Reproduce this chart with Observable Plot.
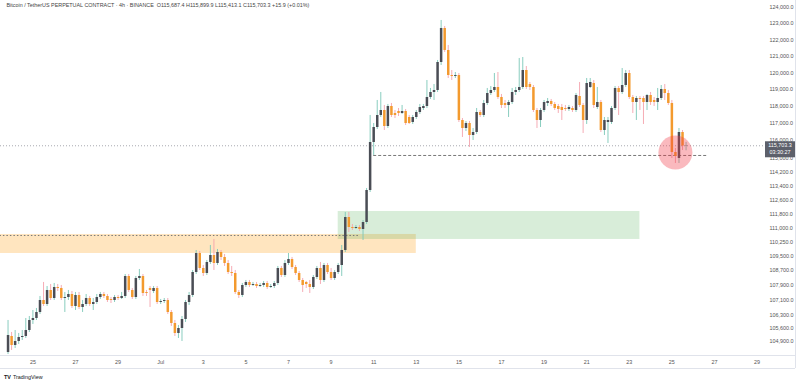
<!DOCTYPE html>
<html><head><meta charset="utf-8">
<script src="https://cdn.jsdelivr.net/npm/d3@7"></script>
<script src="https://cdn.jsdelivr.net/npm/@observablehq/plot@0.6"></script>
<style>body{margin:0;background:#fff;overflow:hidden} svg{display:block}</style>
</head><body><div id="chart"></div>
<script>
// BTCUSDT.P 4h candles, first bar 2025-06-23 20:00 UTC
const firstBar = Date.UTC(2025, 5, 23, 20);
const opens = [
104325,105164,104691,104901,105111,105164,105480,106010,106116,106436,
107077,106863,107615,107184,107776,107722,107184,107238,107399,106756,
107346,106702,106863,107184,106863,106970,107238,107399,107292,107131,
107077,107238,107184,107292,108372,107615,107238,108263,108372,107507,
107722,107561,107722,106970,107024,107077,106436,105851,105322,105586,
106063,106970,107346,108589,109627,108807,108535,109135,109518,109080,
109682,109408,109080,108589,108535,107507,107346,107885,108047,107885,
107939,107830,107885,107993,107776,107830,107993,108807,108426,109080,
109299,108861,108535,108155,108047,107939,107776,108317,108807,108155,
108970,108589,108263,108589,108970,109792,111621,111064,111009,111064,
110953,111342,113141,115894,116767,117472,117766,116826,118002,117590,
117707,117590,117707,117354,117061,117354,117649,117884,118002,118535,
118833,118952,120632,122703,121359,119848,119788,119848,117178,116709,
117002,116301,116476,117649,117472,118180,118773,118952,119130,118535,
118180,118062,118239,118833,118952,119130,120149,119309,119130,117766,
117178,117766,118180,118298,118121,118002,117943,117884,117825,117884,
117766,118595,118062,117178,119130,119369,117943,118239,116592,117061,
117061,117884,119071,118833,119250,119968,118535,118239,118476,118476,
118239,118654,118358,118239,118476,119011,118773,118180,115315,114969,
116476,115687.4];
const highs = [
106010,105375,105480,105322,105480,106116,106222,106542,106649,107292,
108047,107830,107939,107993,107939,107885,107507,107615,107561,107507,
107507,107077,107399,107292,107184,107399,107507,107507,107399,107238,
107346,107346,107507,108480,108480,107722,108372,108752,108480,107615,
107830,107830,107830,107131,107184,107184,106542,106010,105745,106222,
107077,107507,108698,109792,109737,108970,109244,110067,110399,109847,
109792,109573,109244,108916,108698,107615,107993,108155,108155,108047,
108047,107993,108101,108101,107939,108101,108916,108916,109244,109627,
109408,108970,108643,108263,108101,108155,108426,108916,109135,109080,
109080,108807,108698,109080,110067,111902,111902,111231,111175,111175,
111454,113254,117472,117002,118358,118833,118062,118121,118180,117766,
117884,118062,117825,117472,117472,117766,118121,118121,119549,119071,
119309,120752,123196,122826,121663,120149,120028,119968,117295,117119,
117119,116709,117884,117766,118358,119071,119190,119968,120028,118714,
118358,118358,119071,119130,120874,120934,120389,119429,119250,117884,
117884,118358,118476,118417,118239,118121,118121,118062,118062,118002,
118773,119429,118180,119668,119668,119549,119130,118358,117354,117354,
118002,119190,119190,120269,120149,120149,118654,118595,118595,118595,
118714,118833,118535,119071,119250,119309,118952,118358,115546,116709,
116592,115899.9];
const lows = [
104220,104429,104534,104743,104953,105058,105375,105798,106010,106329,
106756,106756,107077,107077,107561,107077,106436,107077,106649,106542,
106596,106436,106756,106756,106542,106863,107131,107184,106970,106916,
106970,107077,107131,107184,107507,107131,107131,108155,107292,107292,
106702,107453,106863,106863,106916,106329,105692,105164,105058,104901,
105904,106809,107238,108480,108698,108372,108426,109025,108698,108970,
109244,108916,108480,108372,107399,107184,107238,107776,107776,107830,
107722,107776,107776,107668,107722,107722,107885,108317,108317,108970,
108752,108426,108047,107507,107722,107453,107668,108209,107939,108047,
108480,108155,108155,108480,108372,109682,110787,110898,110953,110842,
110343,111231,113028,115142,116651,117354,116592,116709,117354,117295,
117413,117531,116885,116944,116944,117237,117531,117766,117884,118417,
118358,118833,120450,121238,119668,119549,119668,117061,116184,116534,
115604,116010,116359,117354,117354,118062,118654,118833,118417,117884,
117884,117354,118121,118654,118833,119011,119011,118952,117649,116709,
116767,117649,118002,118002,117766,117590,117178,117707,117707,117649,
117649,117943,116417,116944,119071,117884,117825,116476,116301,115836,
116944,117766,117472,118714,119130,118417,117590,117178,117766,116944,
117766,118062,118002,117766,118358,118358,118062,114969,114682,114682,
115431,115413.1];
const closes = [
105217,104691,104901,105111,105164,105480,106010,106116,106436,107077,
106863,107615,107184,107776,107722,107184,107238,107399,106756,107346,
106702,106863,107184,106863,106970,107238,107399,107292,107077,107077,
107238,107184,107292,108372,107615,107238,108263,108372,107453,107453,
107615,107722,106970,107024,107077,106436,105851,105322,105586,106063,
106970,107346,108589,109627,108807,108535,109135,109518,109080,109682,
109408,109080,108589,108535,107507,107346,107885,108047,107885,107939,
107830,107885,107993,107776,107830,107993,108807,108426,109080,109299,
108861,108535,108155,107885,107939,107776,108317,108807,108155,108970,
108589,108263,108589,108970,109792,111621,111064,111009,111064,110953,
111342,113141,115894,116767,117472,117766,116826,118002,117472,117472,
117590,117707,117002,117002,117354,117649,117943,118002,118535,118833,
118952,120632,122703,121359,119848,119788,119848,117178,116709,117002,
116301,116476,117649,117472,118180,118773,118952,119130,118535,118062,
118062,118239,118833,118952,119130,120149,119130,119130,117766,117178,
117766,118239,118298,118121,117884,117825,117766,117825,117943,117766,
118654,118062,117178,119369,119429,118062,118239,116592,117178,117178,
117884,119071,118833,119250,119968,118535,118239,118476,118417,118239,
118654,118239,118239,118476,119011,118773,118180,115315,115084,116476,
115687.4,115703.3];

const yTicks = [124000,123000,122000,121000,120000,119000,118000,117000,116000,115000,114200,113400,112600,111800,111000,110250,109500,108700,107900,107100,106300,105600,104900];
const xTickDates = ["2025-06-25","2025-06-27","2025-06-29","2025-07-01","2025-07-03","2025-07-05","2025-07-07","2025-07-09","2025-07-11","2025-07-13","2025-07-15","2025-07-17","2025-07-19","2025-07-21","2025-07-23","2025-07-25","2025-07-27","2025-07-29"];
const xTickLabels = ["25","27","29","Jul","3","5","7","9","11","13","15","17","19","21","23","25","27","29"];

// zones & levels
const supplyZone = {start: "2025-06-20T00:00Z", end: "2025-07-13T00:00Z", low: 109627, high: 110676};
const supplyLevel = {start: "2025-06-20T00:00Z", end: "2025-07-10T09:00Z", price: 110620};
const demandZone = {start: "2025-07-09T08:00Z", end: "2025-07-23T12:00Z", low: 110399, high: 111958};
const wickLevel = {start: "2025-07-11T00:00Z", end: "2025-07-26T16:00Z", price: 115142};
const lastPrice = 115703.3;
const countdown = "03:30:27";
const highlight = {date: "2025-07-25T04:00Z", price: 115315};
const header = "Bitcoin / TetherUS PERPETUAL CONTRACT · 4h · BINANCE  O115,687.4 H115,899.9 L115,413.1 C115,703.3 +15.9 (+0.01%)";

const candles = opens.map((o, i) => ({
  date: new Date(firstBar + i * 4 * 3600e3),
  open: o, high: highs[i], low: lows[i], close: closes[i]
}));
const up = d => d.close >= d.open;
const tickMap = new Map(xTickDates.map((d, i) => [+new Date(d + "T00:00Z"), xTickLabels[i]]));

const font = "Liberation Sans, Arial, sans-serif";
const plot = Plot.plot({
  width: 800, height: 383,
  marginLeft: 0, marginRight: 35, marginTop: 0, marginBottom: 28,
  style: {fontFamily: font, background: "#fff", overflow: "visible"},
  x: {type: "utc", domain: [new Date("2025-06-23T11:30Z"), new Date("2025-07-29T09:30Z")]},
  y: {type: "log", domain: [104167, 124435]},
  marks: [
    Plot.rect([supplyZone], {x1: d => new Date(d.start), x2: d => new Date(d.end), y1: "low", y2: "high", fill: "#ff9800", fillOpacity: 0.25, clip: true}),
    Plot.rect([demandZone], {x1: d => new Date(d.start), x2: d => new Date(d.end), y1: "low", y2: "high", fill: "#4caf50", fillOpacity: 0.22}),
    Plot.ruleY([supplyLevel], {y: "price", x1: d => new Date(d.start), x2: d => new Date(d.end), stroke: "#777", strokeWidth: 1, strokeDasharray: "1.5,2", clip: true}),
    Plot.ruleY([lastPrice], {stroke: "#a8aab0", strokeWidth: 1, strokeDasharray: "1,2"}),
    Plot.ruleY([wickLevel], {y: "price", x1: d => new Date(d.start), x2: d => new Date(d.end), stroke: "#555", strokeWidth: 0.8, strokeDasharray: "3,2"}),
    Plot.ruleX(candles, {x: "date", y1: "low", y2: "high", stroke: d => up(d) ? "#7cc7b8" : "#f4a3ad", strokeWidth: 0.9}),
    Plot.ruleX(candles, {x: "date", y1: "open", y2: "close", stroke: d => up(d) ? "#4a4d55" : "#f39a2e", strokeWidth: 2.5}),
    Plot.dot([highlight], {x: d => new Date(d.date), y: "price", r: 17, fill: "#f23645", fillOpacity: 0.35, stroke: "none"}),
    Plot.axisY(yTicks, {anchor: "right", tickSize: 0, tickPadding: 4, fontSize: 5.4, fill: "#555", tickFormat: d => d3.format(",.1f")(d)}),
    Plot.axisX(xTickDates.map(d => new Date(d + "T00:00Z")), {tickSize: 0, tickPadding: 5, fontSize: 5.4, fill: "#555", tickFormat: d => tickMap.get(+d)}),
    Plot.text([header], {frameAnchor: "top-left", dx: 6, dy: 3, fontSize: 5.4, fill: "#444", lineAnchor: "top"})
  ]
});

const svg = d3.select(plot);
const yS = plot.scale("y");
const yp = yS.apply(lastPrice);
// chart frame lines
svg.append("line").attr("x1", 0).attr("x2", 795).attr("y1", 355.5).attr("y2", 355.5).attr("stroke", "#e0e3eb");
svg.append("line").attr("x1", 0).attr("x2", 795).attr("y1", 368.5).attr("y2", 368.5).attr("stroke", "#e0e3eb");
svg.append("line").attr("x1", 795.5).attr("x2", 795.5).attr("y1", 0).attr("y2", 368).attr("stroke", "#e0e3eb");
// last price label
svg.append("rect").attr("x", 765).attr("y", yp - 4).attr("width", 30).attr("height", 16).attr("fill", "#5d606b");
svg.append("text").attr("x", 780).attr("y", yp + 2).attr("text-anchor", "middle").attr("font-size", 5.4).attr("font-family", font).attr("fill", "#fff").text(d3.format(",.1f")(lastPrice));
svg.append("text").attr("x", 780).attr("y", yp + 9).attr("text-anchor", "middle").attr("font-size", 5.4).attr("font-family", font).attr("fill", "#fff").text(countdown);
// logo (single text element)
const logo = svg.append("text").attr("x", 4).attr("y", 379).attr("text-anchor", "start").attr("font-size", 5.4).attr("font-family", font).attr("fill", "#131722");
logo.append("tspan").attr("font-weight", "bold").text("TV");
logo.append("tspan").attr("dx", 2).text("TradingView");

document.getElementById("chart").append(plot);
</script>
</body></html>
